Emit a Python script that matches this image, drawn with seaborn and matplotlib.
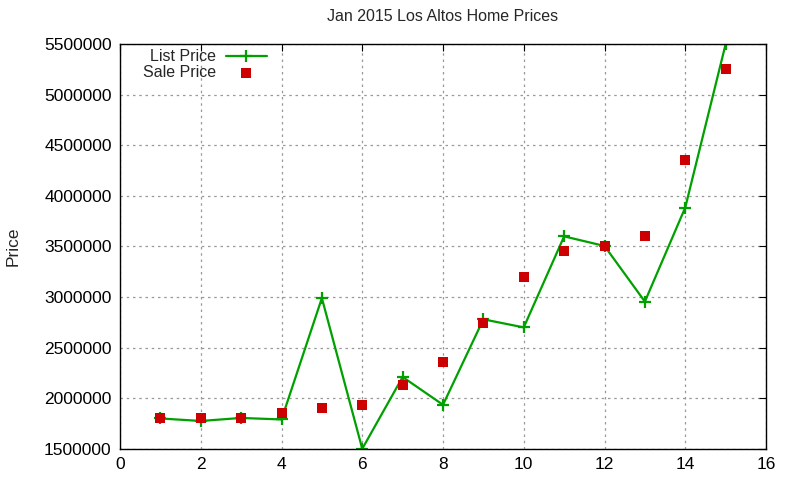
import matplotlib
matplotlib.use("Agg")
import matplotlib.pyplot as plt
import matplotlib.ticker as mticker
import pandas as pd
import seaborn as sns

# Home index (x) and prices
home_index = [1, 2, 3, 4, 5, 6, 7, 8, 9, 10, 11, 12, 13, 14, 15]
list_price = [1800000, 1775000, 1805000, 1790000, 2990000, 1500000, 2210000,
              1935000, 2780000, 2700000, 3600000, 3505000, 2955000, 3885000,
              5500000]
sale_price = [1800000, 1800000, 1800000, 1853000, 1905000, 1935000, 2135000,
              2360000, 2740000, 3200000, 3455000, 3500000, 3605000, 4355000,
              5255000]

_GREEN = "#00a000"
_RED = "#cc0000"
_FS = 12.5

sns.set_style("white")
plt.rcParams["font.family"] = ["Liberation Sans", "DejaVu Sans"]

df = pd.DataFrame({"x": home_index, "list": list_price, "sale": sale_price})

fig = plt.figure(figsize=(8, 4.8), dpi=100)
ax = fig.add_axes([0.15, 0.065, 0.8075, 0.843])

sns.lineplot(data=df, x="x", y="list", ax=ax, color=_GREEN, linewidth=1.6,
             marker="+", markersize=9, markeredgewidth=1.6,
             markeredgecolor=_GREEN, label="List Price")
sns.scatterplot(data=df, x="x", y="sale", ax=ax, color=_RED, marker="s",
                s=42, linewidth=0, label="Sale Price", zorder=3)

ax.set_xlim(0, 16)
ax.set_ylim(1500000, 5500000)
ax.set_xticks(range(0, 17, 2))
ax.set_yticks(range(1500000, 5500001, 500000))
ax.yaxis.set_major_formatter(mticker.FuncFormatter(lambda v, _: f"{int(v)}"))
ax.tick_params(direction="in", top=True, right=True, length=5,
               labelsize=_FS, colors="black", pad=6)
ax.grid(True, linestyle=(0, (2, 3)), color="#999999", linewidth=0.9)
for spine in ax.spines.values():
    spine.set_color("black")
    spine.set_linewidth(1.0)

ax.set_xlabel("")
ax.set_ylabel("Price", fontsize=_FS, labelpad=17)
ax.set_title("Jan 2015 Los Altos Home Prices", fontsize=11.5, pad=17)

ax.legend(loc="upper left", bbox_to_anchor=(0.023, 1.007), frameon=False,
          markerfirst=False, fontsize=11.5, handlelength=2.6,
          handletextpad=0.6, borderaxespad=0.1, labelspacing=0.05)

fig.savefig("out.png", dpi=100)
